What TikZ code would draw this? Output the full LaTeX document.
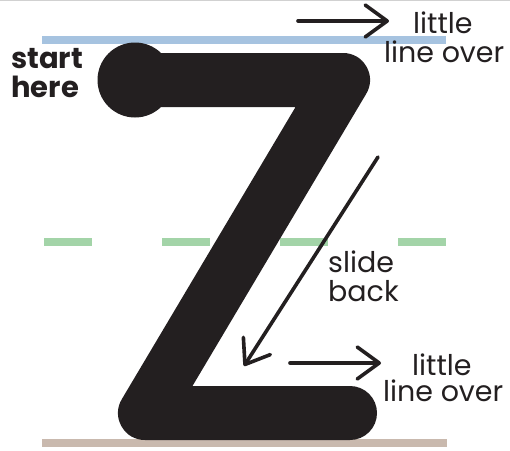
\documentclass[tikz,border=0pt]{standalone}
\usepackage{fontspec}
\setmainfont{Poppins}
\usetikzlibrary{arrows.meta}
\definecolor{zblack}{HTML}{231F20}
\definecolor{lblue}{HTML}{A6C3E0}
\definecolor{lgreen}{HTML}{A3D4A8}
\definecolor{lbrown}{HTML}{C9B9AE}
\tikzset{
  guide/.style={line width=8pt},
  pointer/.style={zblack, line width=3.6pt, line cap=round, -{Straight Barb[length=22pt,width=32pt,round]}},
  lbl/.style={anchor=base west, inner sep=0pt, font=\fontsize{28.5}{28.5}\selectfont, text=zblack},
  blbl/.style={anchor=base west, inner sep=0pt, font=\fontsize{29}{29}\selectfont\bfseries, text=zblack}
}
\begin{document}
\begin{tikzpicture}[x=1pt,y=-1pt]
\useasboundingbox (0,0) rectangle (510,450);
\draw[black!18, line width=1pt] (0,0.5) -- (510,0.5);
% guide lines
\coordinate (b1) at (42,40); \coordinate (b2) at (446,40);
\draw[guide, lblue] (b1) -- (b2);
\coordinate (g1) at (44,242); \coordinate (g2) at (447,242);
\draw[guide, lgreen, dash pattern=on 48pt off 70pt] (g1) -- (g2);
\coordinate (r1) at (42,443); \coordinate (r2) at (447,443);
\draw[guide, lbrown] (r1) -- (r2);
% Z
\coordinate (z0) at (135,80);
\coordinate (z1) at (343,80);
\coordinate (z2) at (145,413);
\coordinate (z3) at (350,413);
\draw[zblack, line width=54pt, line join=round, line cap=round] (z0) -- (z1) -- (z2) -- (z3);
\fill[zblack] (z0) circle (37.5);
% arrows
\coordinate (a1s) at (298,21); \coordinate (a1e) at (389,21);
\draw[pointer] (a1s) -- (a1e);
\coordinate (a2s) at (378,157); \coordinate (a2e) at (244,366);
\draw[pointer] (a2s) -- (a2e);
\coordinate (a3s) at (290,363); \coordinate (a3e) at (381,363);
\draw[pointer] (a3s) -- (a3e);
% labels
\node[blbl] (s1) at (11,68) {start};
\node[blbl] (s2) at (11,97) {here};
\node[lbl] (t1) at (413,33) {little};
\node[lbl] (t2) at (384,62) {line over};
\node[lbl] (m1) at (328,272) {slide};
\node[lbl] (m2) at (328,301) {back};
\node[lbl] (u1) at (412,375) {little};
\node[lbl] (u2) at (383,401) {line over};
\end{tikzpicture}
\end{document}
